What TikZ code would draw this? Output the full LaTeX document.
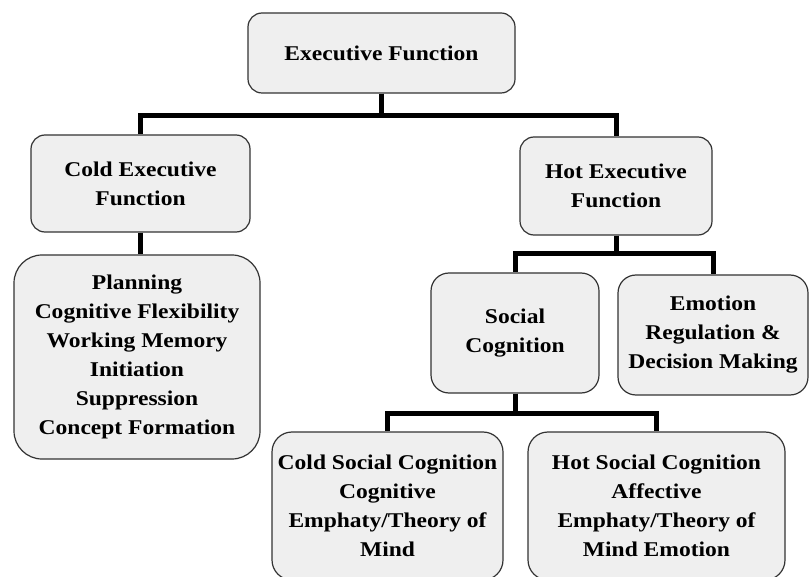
\documentclass[tikz,border=0pt]{standalone}
\usepackage{fontspec,tikz}
\setmainfont{Liberation Serif}[FakeStretch=1.12]
\definecolor{boxfill}{HTML}{EFEFEF}
\definecolor{boxline}{HTML}{333333}
\tikzset{
  efbox/.style={draw=boxline,line width=1.2pt,fill=boxfill,rounded corners=14pt,
    inner sep=0pt,align=center,font=\fontsize{21}{29}\selectfont\bfseries},
  link/.style={line width=5pt,black}
}
\begin{document}
\begin{tikzpicture}[x=1pt,y=-1pt]
\path[use as bounding box] (0,0) rectangle (809.0,577.0);
% top level
\node[efbox,minimum width=267pt,minimum height=80pt] (ef) at (381.5,53) {Executive Function};
% cold branch
\node[efbox,minimum width=219pt,minimum height=97pt] (cef) at (140.5,183.5) {Cold Executive\\Function};
\node[efbox,rounded corners=28pt,minimum width=246pt,minimum height=204pt] (plan) at (137,357)
  {Planning\\Cognitive Flexibility\\Working Memory\\Initiation\\Suppression\\Concept Formation};
% hot branch
\node[efbox,minimum width=192pt,minimum height=98pt] (hef) at (616,186) {Hot Executive\\Function};
\node[efbox,rounded corners=18pt,minimum width=168pt,minimum height=120pt] (soc) at (515,333) {Social\\Cognition};
\node[efbox,rounded corners=18pt,minimum width=190pt,minimum height=120pt] (emo) at (713,335) {Emotion\\Regulation \&\\Decision Making};
% social cognition
\node[efbox,rounded corners=20pt,minimum width=231pt,minimum height=148pt] (csoc) at (387.5,506)
  {Cold Social Cognition\\Cognitive\\Emphaty/Theory of\\Mind};
\node[efbox,rounded corners=20pt,minimum width=257pt,minimum height=148pt] (hsoc) at (656.5,506)
  {Hot Social Cognition\\Affective\\Emphaty/Theory of\\Mind Emotion};
% connectors
\draw[link] (ef.south) -- ++(0,22) -| (cef.north);
\draw[link] (ef.south) -- ++(0,22) -| (hef.north);
\draw[link] (cef.south) -- (cef.south |- plan.north);
\draw[link] (hef.south) -- ++(0,18) -| (soc.north);
\draw[link] (hef.south) -- ++(0,18) -| (emo.north);
\draw[link] (soc.south) -- ++(0,20) -| (csoc.north);
\draw[link] (soc.south) -- ++(0,20) -| (hsoc.north);
\end{tikzpicture}
\end{document}
